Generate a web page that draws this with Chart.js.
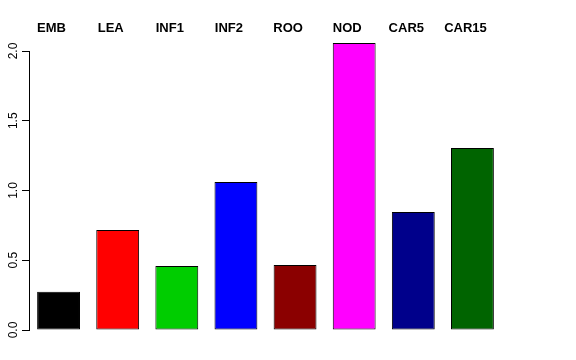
<!DOCTYPE html>
<html>
<head>
<meta charset="utf-8">
<script src="https://cdn.jsdelivr.net/npm/chart.js@4/dist/chart.umd.min.js"></script>
<style>
  html, body { margin: 0; padding: 0; background: #fff; }
  #wrap { width: 576px; height: 360px; }
</style>
</head>
<body>
<div id="wrap"><canvas id="myChart"></canvas></div>
<script>
const categories = ['EMB', 'LEA', 'INF1', 'INF2', 'ROO', 'NOD', 'CAR5', 'CAR15'];
const values = [0.275, 0.717, 0.459, 1.061, 0.466, 2.057, 0.846, 1.305];
const barColors = ['#000000', '#FF0000', '#00CD00', '#0000FF', '#8B0000', '#FF00FF', '#00008B', '#006400'];

//setup block
const data = {
  labels: categories,
  datasets: [{
    data: values,
    backgroundColor: barColors,
    borderColor: '#000000',
    borderWidth: 1,
    borderSkipped: false,
    barPercentage: 0.725,
    categoryPercentage: 1,
    clip: false
  }]
};

//config block
const config = {
  type: 'bar',
  data,
  options: {
    responsive: true,
    maintainAspectRatio: false,
    animation: false,
    layout: { padding: { top: 0, left: 0, right: 74, bottom: 30 } },
    plugins: {
      legend: { display: false },
      tooltip: { enabled: false }
    },
    scales: {
      x: {
        position: 'top',
        grid: { display: false, drawTicks: false },
        border: { display: false },
        ticks: {
          color: '#000',
          font: { family: 'Liberation Sans', size: 13, weight: 'bold' },
          padding: 15,
          labelOffset: -7,
          maxRotation: 0,
          minRotation: 0
        },
        afterFit: function (scale) { scale.height = 51; }
      },
      y: {
        min: 0,
        max: 2,
        grid: { display: true, drawOnChartArea: false, drawTicks: true, tickLength: 7, color: '#000' },
        border: { display: true, color: '#000', width: 1 },
        ticks: {
          stepSize: 0.5,
          color: '#000',
          font: { family: 'Liberation Sans', size: 12 },
          padding: 0,
          minRotation: 90,
          maxRotation: 90,
          crossAlign: 'center',
          callback: function (v) { return v.toFixed(1); }
        },
        afterFit: function (scale) { scale.width = 29; }
      }
    }
  }
};

//init block (render)
const myChart = new Chart(document.getElementById('myChart'), config);
</script>
</body>
</html>
